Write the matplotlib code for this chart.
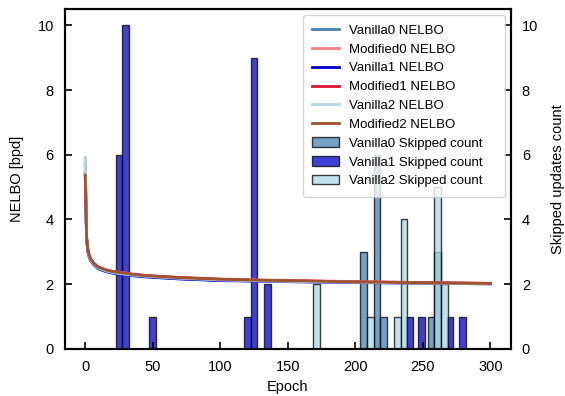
import matplotlib
matplotlib.use("Agg")
import matplotlib.pyplot as plt

plt.rcParams['font.family'] = ['Liberation Sans', 'DejaVu Sans']

# NELBO curves, read at these epochs
epochs = [0, 1, 2, 3, 4, 6, 8, 10, 15, 20, 30, 40, 50, 70, 100, 130, 160, 200, 250, 300]
vanilla0 = [5.50, 3.40, 3.00, 2.84, 2.74, 2.62, 2.54, 2.48, 2.40, 2.35, 2.29, 2.25, 2.22, 2.17, 2.12, 2.10, 2.08, 2.06, 2.03, 2.01]
modified0 = [5.90, 3.46, 3.06, 2.89, 2.79, 2.67, 2.59, 2.53, 2.45, 2.40, 2.34, 2.29, 2.26, 2.21, 2.16, 2.13, 2.11, 2.08, 2.05, 2.03]
vanilla1 = [5.40, 3.38, 2.99, 2.83, 2.73, 2.61, 2.53, 2.47, 2.39, 2.34, 2.28, 2.24, 2.21, 2.16, 2.11, 2.09, 2.07, 2.05, 2.03, 2.01]
modified1 = [5.70, 3.45, 3.05, 2.88, 2.78, 2.66, 2.58, 2.52, 2.44, 2.39, 2.33, 2.28, 2.25, 2.20, 2.15, 2.12, 2.10, 2.07, 2.05, 2.02]
vanilla2 = [5.90, 3.42, 3.02, 2.85, 2.75, 2.63, 2.55, 2.49, 2.41, 2.36, 2.30, 2.26, 2.23, 2.18, 2.13, 2.10, 2.08, 2.06, 2.03, 2.01]
modified2 = [5.37, 3.45, 3.05, 2.88, 2.78, 2.66, 2.58, 2.52, 2.44, 2.39, 2.33, 2.28, 2.25, 2.20, 2.15, 2.12, 2.10, 2.07, 2.04, 2.02]

# skipped update counts
v0_epochs = [206, 216, 221, 256, 261]
v0_counts = [3, 6, 1, 1, 3]
v1_epochs = [25, 30, 50, 120, 125, 135, 240, 249, 270, 279]
v1_counts = [6, 10, 1, 1, 9, 2, 1, 1, 1, 1]
v2_epochs = [171, 211, 231, 236, 261, 266]
v2_counts = [2, 1, 1, 4, 5, 2]

fig = plt.figure(figsize=(5.65, 3.96), dpi=100)
ax = fig.add_axes([0.115, 0.119, 0.789, 0.858])
ax2 = ax.twinx()

# bars on the twin axis, lines drawn on top
ax2.bar(v0_epochs, v0_counts, width=5, color='steelblue', alpha=0.75, edgecolor='black', linewidth=1, label='Vanilla0 Skipped count')
ax2.bar(v1_epochs, v1_counts, width=5, color='mediumblue', alpha=0.75, edgecolor='black', linewidth=1, label='Vanilla1 Skipped count')
ax2.bar(v2_epochs, v2_counts, width=5, color='lightblue', alpha=0.75, edgecolor='black', linewidth=1, label='Vanilla2 Skipped count')

ax.set_zorder(ax2.get_zorder() + 1)
ax.patch.set_visible(False)

ax.plot(epochs, vanilla0, color='steelblue', lw=2, label='Vanilla0 NELBO')
ax.plot(epochs, modified0, color='lightcoral', lw=2, label='Modified0 NELBO')
ax.plot(epochs, vanilla1, color='mediumblue', lw=2, label='Vanilla1 NELBO')
ax.plot(epochs, modified1, color='crimson', lw=2, label='Modified1 NELBO')
ax.plot(epochs, vanilla2, color='lightblue', lw=2, label='Vanilla2 NELBO')
ax.plot(epochs, modified2, color='sienna', lw=2, label='Modified2 NELBO')

ax.set_xlim(-15, 315)
ax.set_ylim(0, 10.5)
ax2.set_ylim(0, 10.5)
ax.set_xticks([0, 50, 100, 150, 200, 250, 300])
ax.set_yticks([0, 2, 4, 6, 8, 10])
ax2.set_yticks([0, 2, 4, 6, 8, 10])

ax.set_xlabel('Epoch', fontsize=10.5, labelpad=4)
ax.set_ylabel('NELBO [bpd]', fontsize=10.5, labelpad=10)
ax2.set_ylabel('Skipped updates count', fontsize=10.5, labelpad=9)

for a in (ax, ax2):
    a.tick_params(direction='in', length=5, width=1.2, labelsize=10.5, pad=8)
    for s in a.spines.values():
        s.set_linewidth(1.5)

h1, l1 = ax.get_legend_handles_labels()
h2, l2 = ax2.get_legend_handles_labels()
ax.legend(h1 + h2, l1 + l2, loc='upper left', bbox_to_anchor=(0.534, 0.0, 0.453, 0.982),
          mode='expand', borderaxespad=0, fontsize=9.5, labelspacing=0.5, borderpad=0.7)

fig.savefig('out.png', dpi=100)
